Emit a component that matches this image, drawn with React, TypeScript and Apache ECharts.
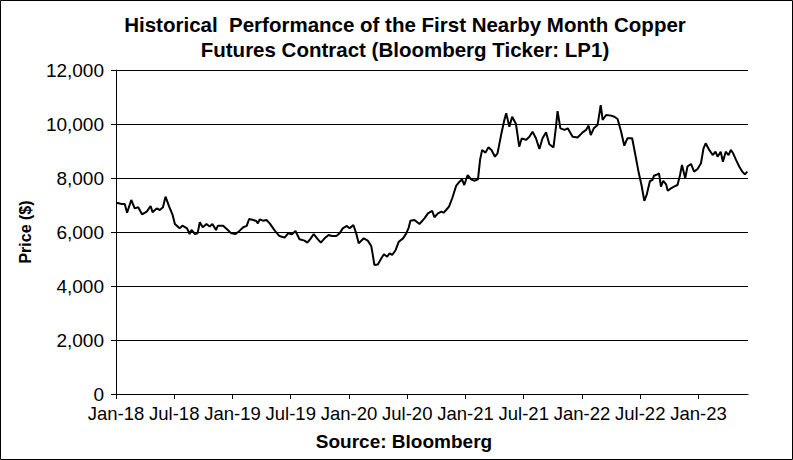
import React, { useEffect, useRef } from "react";
import * as echarts from "echarts";

const dates: string[] = [
  "2018-01-03","2018-01-19","2018-01-29","2018-02-05","2018-02-17","2018-02-27","2018-03-10","2018-03-22","2018-04-06","2018-04-18",
  "2018-04-24","2018-05-07","2018-05-17","2018-05-27","2018-06-04","2018-06-15","2018-06-26","2018-07-03","2018-07-18","2018-07-27",
  "2018-08-11","2018-08-19","2018-08-25","2018-09-05","2018-09-13","2018-09-20","2018-09-29","2018-10-11","2018-10-21","2018-10-30",
  "2018-11-10","2018-11-16","2018-12-02","2018-12-17","2018-12-28","2019-01-11","2019-01-24","2019-02-04","2019-02-14","2019-02-21",
  "2019-03-05","2019-03-15","2019-03-20","2019-03-26","2019-04-05","2019-04-16","2019-04-26","2019-05-12","2019-05-27","2019-06-12",
  "2019-06-23","2019-07-05","2019-07-16","2019-07-29","2019-08-14","2019-08-23","2019-09-03","2019-09-12","2019-09-25","2019-10-04",
  "2019-10-16","2019-10-29","2019-11-08","2019-11-22","2019-12-02","2019-12-12","2019-12-25","2020-01-03","2020-01-15","2020-01-24",
  "2020-02-01","2020-02-13","2020-02-16","2020-02-28","2020-03-10","2020-03-15","2020-03-20","2020-03-31","2020-04-11","2020-04-19",
  "2020-04-29","2020-05-07","2020-05-15","2020-05-26","2020-06-05","2020-06-18","2020-06-28","2020-07-06","2020-07-11","2020-07-24",
  "2020-08-09","2020-08-25","2020-09-05","2020-09-18","2020-09-25","2020-10-06","2020-10-17","2020-10-24","2020-11-01","2020-11-10",
  "2020-11-20","2020-12-02","2020-12-13","2020-12-21","2020-12-28","2021-01-08","2021-01-19","2021-01-29","2021-02-09","2021-02-15",
  "2021-02-21","2021-03-03","2021-03-12","2021-03-22","2021-04-02","2021-04-10","2021-04-21","2021-05-01","2021-05-07","2021-05-17",
  "2021-05-26","2021-06-07","2021-06-17","2021-06-25","2021-07-08","2021-07-19","2021-07-29","2021-08-09","2021-08-20","2021-08-30",
  "2021-09-10","2021-09-20","2021-10-03","2021-10-11","2021-10-16","2021-10-25","2021-11-07","2021-11-17","2021-12-02","2021-12-18",
  "2022-01-03","2022-01-14","2022-01-22","2022-01-29","2022-02-07","2022-02-18","2022-02-27","2022-03-05","2022-03-16","2022-04-01",
  "2022-04-11","2022-04-21","2022-05-02","2022-05-12","2022-05-22","2022-06-06","2022-06-16","2022-06-26","2022-07-05","2022-07-14",
  "2022-07-22","2022-08-01","2022-08-09","2022-08-14","2022-08-25","2022-08-30","2022-09-05","2022-09-12","2022-09-21","2022-09-26",
  "2022-10-06","2022-10-16","2022-10-27","2022-11-04","2022-11-10","2022-11-20","2022-11-27","2022-12-08","2022-12-18","2022-12-29",
  "2023-01-09","2023-01-17","2023-01-24","2023-02-04","2023-02-14","2023-02-22","2023-02-28","2023-03-10","2023-03-17","2023-03-26",
  "2023-04-04","2023-04-11","2023-04-18","2023-04-27","2023-05-07","2023-05-17","2023-05-25","2023-06-02",
];

const prices: number[] = [
  7085,7040,7040,6715,7185,6875,6915,6655,6755,6965,
  6730,6875,6815,6915,7310,6950,6630,6295,6135,6235,
  6135,5925,6075,5925,5950,6360,6175,6295,6200,6295,
  6075,6235,6235,6075,5950,5925,6050,6175,6225,6480,
  6445,6410,6320,6470,6420,6445,6320,6050,5850,5790,
  5950,5915,6035,5730,5680,5605,5765,5925,5730,5605,
  5765,5890,5850,5850,5950,6135,6225,6135,6260,5950,
  5580,5730,5765,5680,5480,5150,4780,4800,5025,5175,
  5085,5210,5150,5335,5640,5765,5950,6175,6420,6445,
  6295,6505,6690,6780,6545,6690,6755,6715,6815,6940,
  7250,7705,7865,7950,7740,8110,7950,7900,7950,8670,
  9040,8940,9135,9040,8790,8915,9590,10150,10400,9900,
  10270,10000,9160,9470,9410,9530,9715,9470,9075,9470,
  9690,9250,9135,9900,10480,9840,9780,9840,9530,9500,
  9690,9780,9940,9590,9840,9965,10700,10150,10335,10310,
  10270,10185,9715,9195,9470,9470,8850,8210,7740,7150,
  7395,7890,7925,8085,8135,8170,7680,7890,7765,7530,
  7615,7680,7740,8110,8480,7990,8425,8520,8235,8335,
  8545,9100,9285,9040,8850,8975,8790,8975,8605,8975,
  8850,9040,8915,8670,8425,8235,8135,8235,
];

const xTickLabels: string[] = [
  "Jan-18","Jul-18","Jan-19","Jul-19","Jan-20","Jul-20","Jan-21","Jul-21","Jan-22","Jul-22","Jan-23",
];
const axisEndDate = "2023-06-04";
const yTicks: number[] = [0, 2000, 4000, 6000, 8000, 10000, 12000];

const titleText = "Historical  Performance of the First Nearby Month Copper\nFutures Contract (Bloomberg Ticker: LP1)";
const yAxisTitle = "Price ($)";
const sourceText = "Source: Bloomberg";

function toMonth(d: string): number {
  const [y, m, day] = d.split("-").map(Number);
  const dim = new Date(y, m, 0).getDate();
  return (y - 2018) * 12 + (m - 1) + (day - 1) / dim;
}

const FONT = "'Liberation Sans', Arial, sans-serif";

export default function App() {
  const ref = useRef<HTMLDivElement>(null);
  useEffect(() => {
    document.body.style.margin = "0";
    if (!ref.current) return;
    const chart = echarts.init(ref.current, null, { renderer: "svg" });
    const tickVals = xTickLabels.map((_, i) => i * 6);
    chart.setOption({
      animation: false,
      backgroundColor: "#ffffff",
      textStyle: { fontFamily: FONT },
      title: {
        text: titleText,
        left: 400,
        top: 7,
        textAlign: "center",
        textStyle: { fontFamily: FONT, fontSize: 20.5, fontWeight: "bold", color: "#000", lineHeight: 25 },
      },
      grid: { left: 116, right: 45, top: 70, bottom: 66, containLabel: false },
      xAxis: {
        type: "value",
        min: 0,
        max: toMonth(axisEndDate),
        interval: 6,
        splitLine: { show: false },
        axisLine: { lineStyle: { color: "#000", width: 1 } },
        axisTick: { show: true, length: 5, inside: false, lineStyle: { color: "#000" }, customValues: tickVals },
        axisLabel: {
          customValues: tickVals,
          color: "#000",
          fontSize: 18.5,
          lineHeight: 18,
          fontFamily: FONT,
          margin: 10,
          formatter: (v: number) => xTickLabels[Math.round(v / 6)] ?? "",
        },
      },
      yAxis: {
        type: "value",
        min: yTicks[0],
        max: yTicks[yTicks.length - 1],
        interval: 2000,
        name: yAxisTitle,
        nameLocation: "middle",
        nameRotate: 90,
        nameGap: 83,
        nameTextStyle: { color: "#000", fontSize: 16, fontWeight: "bold", fontFamily: FONT },
        axisLine: { show: true, lineStyle: { color: "#000", width: 1 } },
        axisTick: { show: true, length: 5, lineStyle: { color: "#000" } },
        splitLine: { show: true, lineStyle: { color: "#000", width: 1 } },
        axisLabel: {
          color: "#000",
          fontSize: 19,
          lineHeight: 16,
          fontFamily: FONT,
          margin: 12,
          formatter: (v: number) => v.toLocaleString("en-US"),
        },
      },
      graphic: [
        {
          type: "rect",
          shape: { x: 0.5, y: 0.5, width: 792, height: 459 },
          style: { fill: "none", stroke: "#000", lineWidth: 1 },
          silent: true,
        },
        {
          type: "text",
          x: 404,
          y: 441,
          style: {
            text: sourceText,
            fontFamily: FONT,
            fontSize: 19,
            fontWeight: "bold",
            fill: "#000",
            align: "center",
            verticalAlign: "middle",
          },
        },
      ],
      series: [
        {
          type: "line",
          data: dates.map((d, i) => [toMonth(d), prices[i]]),
          showSymbol: false,
          symbol: "none",
          lineStyle: { color: "#000", width: 2 },
          z: 5,
        },
      ],
    });
    return () => chart.dispose();
  }, []);
  return <div ref={ref} style={{ width: 793, height: 460 }} />;
}
